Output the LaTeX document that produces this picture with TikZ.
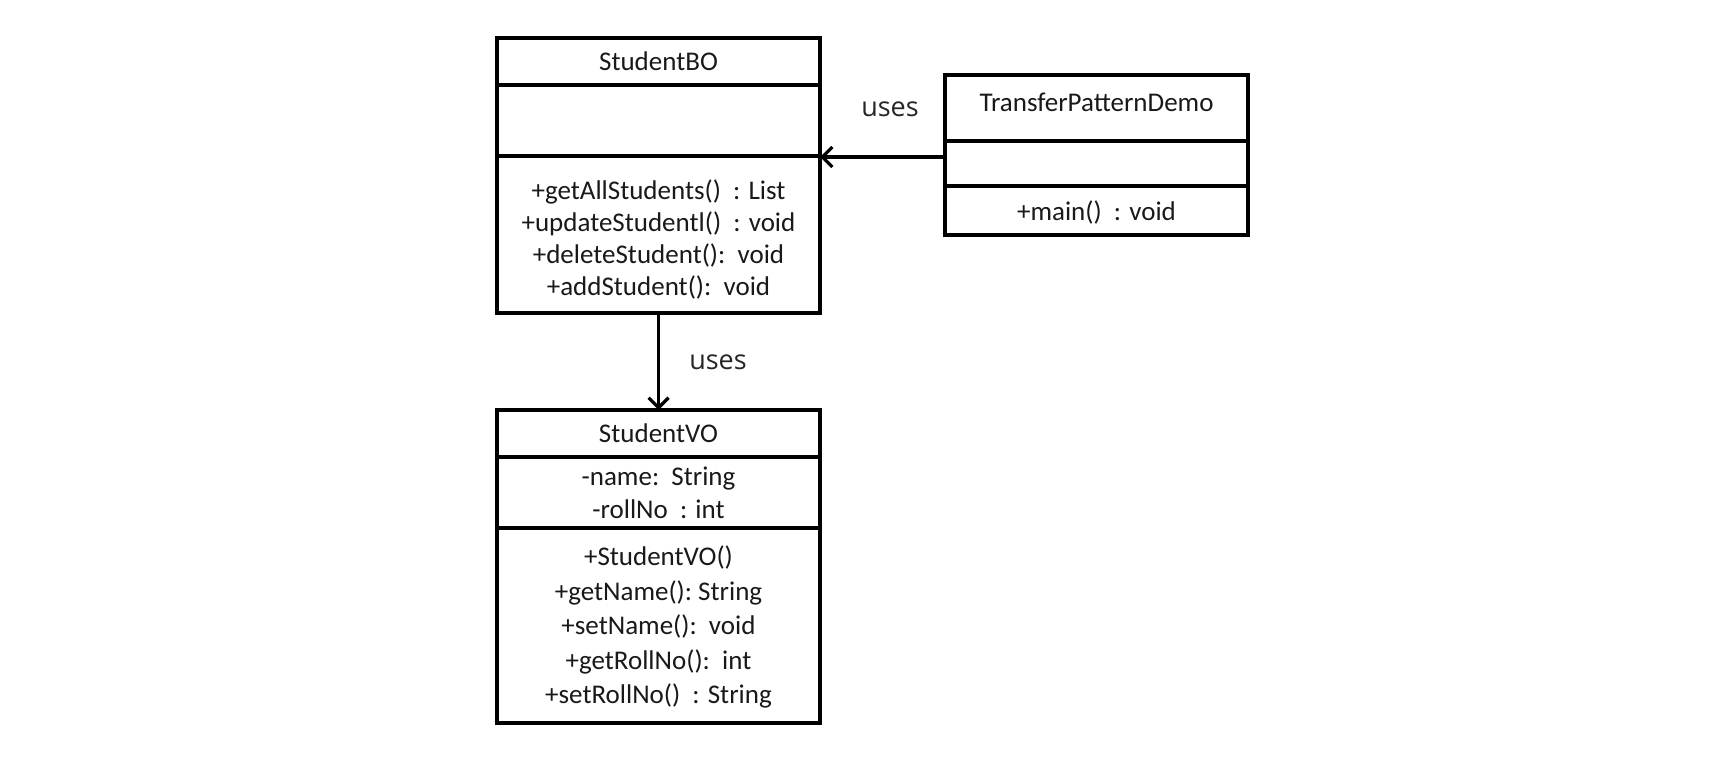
\documentclass[tikz,border=0pt]{standalone}
\usepackage{fontspec}
\setmainfont{Carlito}
\newfontfamily\labelfont{Open Sans}
\usetikzlibrary{arrows.meta}
\begin{document}
\begin{tikzpicture}[x=1pt,y=-1pt,
  comp/.style={draw=black,line width=3.2pt,inner sep=0pt,minimum width=#1,outer sep=0pt},
  txt/.style={inner sep=0pt,align=center,font=\fontsize{27}{32}\selectfont,text=black!90},
  lbl/.style={inner sep=0pt,font=\labelfont\fontsize{27}{30}\selectfont,text=black!85},
  usesarrow/.style={line width=3.2pt,-{Straight Barb[length=10pt,width=20pt,line width=3.2pt]}}]
\useasboundingbox[fill=white] (0,0) rectangle (1736,762);
% StudentBO
\node[comp=323pt,minimum height=47pt] (bo1) at (658.5,61.5) {};
\node[comp=323pt,minimum height=71pt] (bo2) at (658.5,120.5) {};
\node[comp=323pt,minimum height=157pt] (bo3) at (658.5,234.5) {};
\node[txt] (bot) at (bo1.center) {StudentBO};
\node[txt] (bom) at (658.5,239) {+getAllStudents()\ \ : List\\+updateStudentl()\ \ : void\\+deleteStudent():\ \ void\\+addStudent():\ \ void};
% TransferPatternDemo
\node[comp=303pt,minimum height=66pt] (tp1) at (1096.5,108) {};
\node[comp=303pt,minimum height=45pt] (tp2) at (1096.5,163.5) {};
\node[comp=303pt,minimum height=49pt] (tp3) at (1096.5,210.5) {};
\node[txt] (tpt) at (1096.5,102) {TransferPatternDemo};
\node[txt] (tpm) at (1096.5,212) {+main()\ \ : void};
% StudentVO
\node[comp=323pt,minimum height=47pt] (vo1) at (658.5,433.5) {};
\node[comp=323pt,minimum height=71pt] (vo2) at (658.5,492.5) {};
\node[comp=323pt,minimum height=195pt] (vo3) at (658.5,625.5) {};
\node[txt] (vot) at (vo1.center) {StudentVO};
\node[txt,font=\fontsize{27}{33}\selectfont] (voa) at (658.5,493) {-name:\ \ String\\-rollNo\ \ : int};
\node[txt,font=\fontsize{27}{34.5}\selectfont] (vom) at (658.5,627) {+StudentVO()\\+getName():\ String\\+setName():\ \ void\\+getRollNo():\ \ int\\+setRollNo()\ \ : String};
% connectors
\coordinate (tpin) at (tp2.west |- 0,157);
\draw[usesarrow] (tpin) -- (bo3.north east |- tpin);
\draw[usesarrow] (bo3.south) -- (vo1.north);
\node[lbl] (l1) at (890,109) {uses};
\node[lbl] (l2) at (718,362) {uses};
\end{tikzpicture}
\end{document}
